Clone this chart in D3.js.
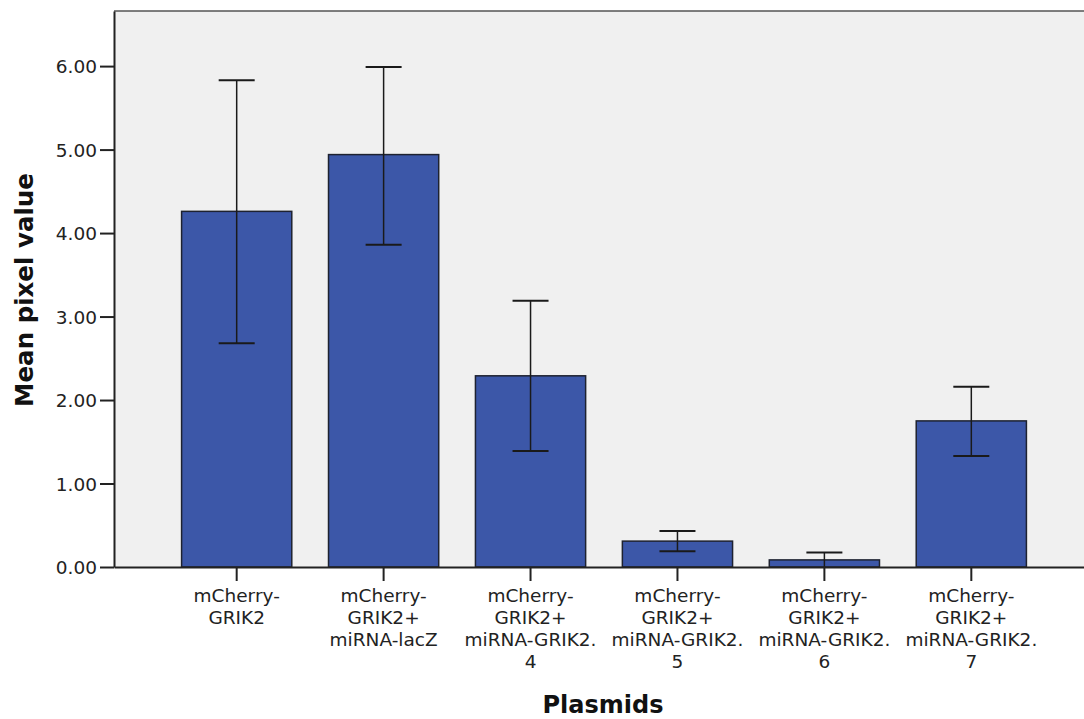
<!DOCTYPE html>
<html>
<head>
<meta charset="utf-8">
<script src="https://cdn.jsdelivr.net/npm/d3@7"></script>
<style>
  body { margin: 0; background: #fff; }
  text { font-family: "DejaVu Sans", sans-serif; }
</style>
</head>
<body>
<div id="chart"></div>
<script>
var categories = [
  ["mCherry-", "GRIK2"],
  ["mCherry-", "GRIK2+", "miRNA-lacZ"],
  ["mCherry-", "GRIK2+", "miRNA-GRIK2.", "4"],
  ["mCherry-", "GRIK2+", "miRNA-GRIK2.", "5"],
  ["mCherry-", "GRIK2+", "miRNA-GRIK2.", "6"],
  ["mCherry-", "GRIK2+", "miRNA-GRIK2.", "7"]
];
var means = [4.26, 4.94, 2.29, 0.31, 0.085, 1.75];
var errLow = [2.68, 3.86, 1.39, 0.19, 0.0, 1.33];
var errHigh = [5.83, 5.99, 3.19, 0.43, 0.175, 2.16];
var yTicks = [0, 1, 2, 3, 4, 5, 6];

var svgWidth = 1084;
var svgHeight = 719;

var margin = {
  top: 11,
  right: -10,
  bottom: 152,
  left: 114
};

var chartWidth = svgWidth - margin.left - margin.right;
var chartHeight = svgHeight - margin.top - margin.bottom;

var svg = d3.select("#chart").append("svg")
  .attr("width", svgWidth)
  .attr("height", svgHeight);

var chartGroup = svg.append("g")
  .attr("transform", `translate(${margin.left}, ${margin.top})`);

var data = categories.map(function(c, i) {
  return { idx: i, lines: c, mean: means[i], lo: errLow[i], hi: errHigh[i] };
});

var xScale = d3.scaleBand()
  .domain(data.map(d => d.idx))
  .range([0, chartWidth])
  .paddingInner(0.25)
  .paddingOuter(0.46);

var yScale = d3.scaleLinear()
  .domain([0, 6.66])
  .range([chartHeight, 0]);

// plot background
chartGroup.append("rect")
  .attr("width", chartWidth)
  .attr("height", chartHeight)
  .attr("fill", "#f0f0f0");

// top frame line
chartGroup.append("line")
  .attr("x1", 0).attr("x2", chartWidth)
  .attr("y1", 0).attr("y2", 0)
  .attr("stroke", "#555")
  .attr("stroke-width", 1.5);

// bars
chartGroup.append("g").selectAll("rect")
  .data(data)
  .enter()
  .append("rect")
  .attr("x", d => xScale(d.idx))
  .attr("y", d => yScale(d.mean))
  .attr("width", xScale.bandwidth())
  .attr("height", d => chartHeight - yScale(d.mean))
  .attr("fill", "#3c57a8")
  .attr("stroke", "#1e2230")
  .attr("stroke-width", 1.5);

// error bars
var cap = 18;
var eb = chartGroup.append("g").selectAll("g")
  .data(data)
  .enter()
  .append("g")
  .attr("stroke", "#1a1a1a")
  .attr("stroke-width", 1.5);

eb.append("line")
  .attr("x1", d => xScale(d.idx) + xScale.bandwidth() / 2)
  .attr("x2", d => xScale(d.idx) + xScale.bandwidth() / 2)
  .attr("y1", d => yScale(d.lo))
  .attr("y2", d => yScale(d.hi));

eb.append("line")
  .attr("x1", d => xScale(d.idx) + xScale.bandwidth() / 2 - cap)
  .attr("x2", d => xScale(d.idx) + xScale.bandwidth() / 2 + cap)
  .attr("y1", d => yScale(d.hi))
  .attr("y2", d => yScale(d.hi))
  .attr("stroke-width", 2);

eb.filter(d => d.lo > 0).append("line")
  .attr("x1", d => xScale(d.idx) + xScale.bandwidth() / 2 - cap)
  .attr("x2", d => xScale(d.idx) + xScale.bandwidth() / 2 + cap)
  .attr("y1", d => yScale(d.lo))
  .attr("y2", d => yScale(d.lo))
  .attr("stroke-width", 2);

// axes
var yAxis = d3.axisLeft(yScale)
  .tickValues(yTicks)
  .tickFormat(d3.format(".2f"))
  .tickSizeInner(14)
  .tickSizeOuter(0)
  .tickPadding(3);

var xAxis = d3.axisBottom(xScale)
  .tickSizeInner(14)
  .tickSizeOuter(0)
  .tickFormat("");

var yG = chartGroup.append("g").call(yAxis);
var xG = chartGroup.append("g")
  .attr("transform", `translate(0, ${chartHeight})`)
  .call(xAxis);

[yG, xG].forEach(function(g) {
  g.select(".domain").attr("stroke", "#222").attr("stroke-width", 2);
  g.selectAll(".tick line").attr("stroke", "#222").attr("stroke-width", 2);
  g.selectAll("text")
    .style("font-family", "'DejaVu Sans', sans-serif")
    .style("font-size", "18.5px")
    .attr("fill", "#222");
});
yG.selectAll(".tick text").attr("dy", "0.36em");

// multi-line x tick labels
xG.selectAll(".tick").each(function(d) {
  var t = d3.select(this).append("text")
    .attr("text-anchor", "middle")
    .attr("fill", "#222")
    .style("font-family", "'DejaVu Sans', sans-serif")
    .style("font-size", "18.5px");
  data[d].lines.forEach(function(line, i) {
    t.append("tspan")
      .attr("x", 0)
      .attr("y", 35 + i * 22)
      .text(line);
  });
});

// Axis Labels
svg.append("text")
  .attr("text-anchor", "middle")
  .attr("x", 603)
  .attr("y", 713)
  .style("font-weight", "bold")
  .style("font-size", "24px")
  .attr("fill", "#111")
  .text("Plasmids");

svg.append("text")
  .attr("text-anchor", "middle")
  .attr("transform", "translate(33, 290) rotate(-90)")
  .style("font-weight", "bold")
  .style("font-size", "24.5px")
  .attr("fill", "#111")
  .text("Mean pixel value");
</script>
</body>
</html>
